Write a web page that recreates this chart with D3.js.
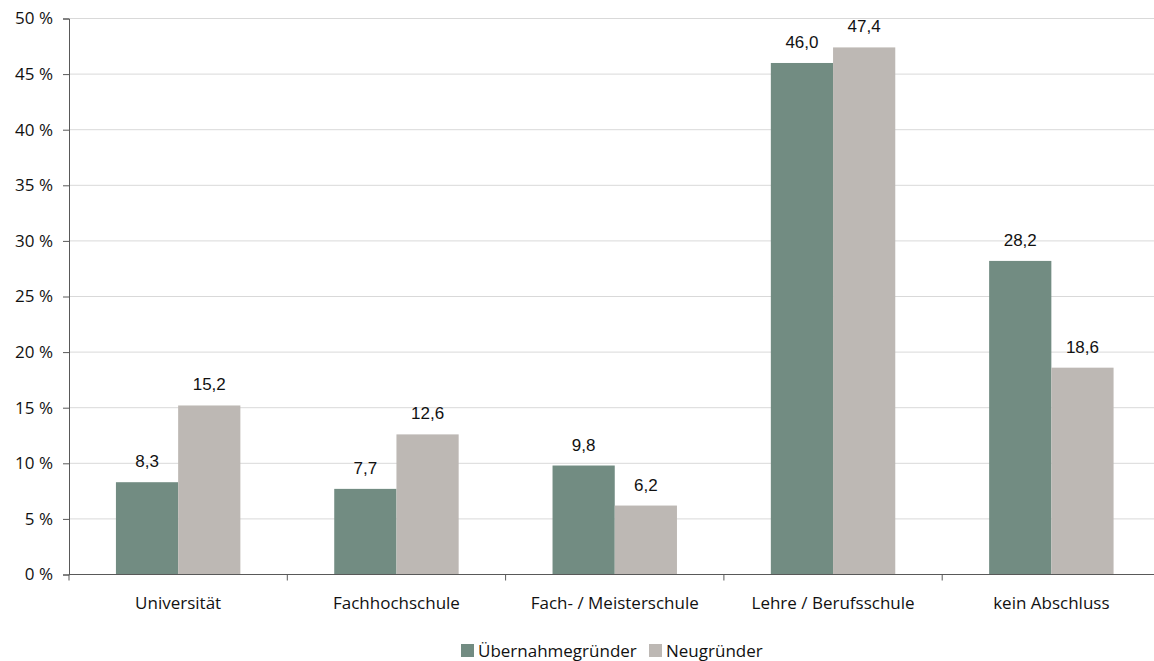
<!DOCTYPE html>
<html>
<head>
<meta charset="utf-8">
<script src="https://cdn.jsdelivr.net/npm/d3@7"></script>
<style>
  html, body { margin: 0; padding: 0; background: #fff; }
  svg { display: block; }
</style>
</head>
<body>
<svg id="chart" width="1154" height="661"></svg>
<script>
const categories = ["Universität", "Fachhochschule", "Fach- / Meisterschule", "Lehre / Berufsschule", "kein Abschluss"];
const seriesNames = ["Übernahmegründer", "Neugründer"];
const uebernahme = [8.3, 7.7, 9.8, 46.0, 28.2];
const neu = [15.2, 12.6, 6.2, 47.4, 18.6];
const yTicks = [0, 5, 10, 15, 20, 25, 30, 35, 40, 45, 50];
const colors = ["#728c82", "#bdb8b4"];

(function () {
const svg = d3.select("#chart");
const plotLeft = 69, plotRight = 1160.5, plotTop = 18.5, plotBottom = 574.5;
const labelFont = "'Open Sans', 'Liberation Sans', sans-serif";
const valueFont = "'Liberation Sans', Arial, sans-serif";
const textColor = "#111";

const x = d3.scaleBand().domain(categories).range([plotLeft, plotRight]).paddingInner(0.43).paddingOuter(0.215);
const x1 = d3.scaleBand().domain(seriesNames).range([0, x.bandwidth()]);
const y = d3.scaleLinear().domain([0, 50]).range([plotBottom, plotTop]);

// gridlines
svg.append("g").selectAll("line").data(yTicks.filter(d => d > 0)).join("line")
  .attr("x1", plotLeft).attr("x2", plotRight)
  .attr("y1", d => y(d)).attr("y2", d => y(d))
  .attr("stroke", "#d9d9d9").attr("stroke-width", 1);

// bars and value labels
const rows = categories.map((c, i) => ({ c, vals: [uebernahme[i], neu[i]] }));
const groups = svg.append("g").selectAll("g").data(rows).join("g")
  .attr("transform", d => `translate(${x(d.c)},0)`);
groups.selectAll("rect").data(d => d.vals.map((v, j) => ({ v, s: seriesNames[j], j }))).join("rect")
  .attr("x", d => x1(d.s)).attr("width", x1.bandwidth())
  .attr("y", d => y(d.v)).attr("height", d => plotBottom - y(d.v))
  .attr("fill", d => colors[d.j]);
groups.selectAll("text").data(d => d.vals.map((v, j) => ({ v, s: seriesNames[j], j }))).join("text")
  .attr("x", d => x1(d.s) + x1.bandwidth() / 2)
  .attr("y", d => y(d.v) - 15)
  .attr("text-anchor", "middle")
  .attr("font-family", valueFont).attr("font-size", 17).attr("fill", textColor)
  .text(d => d.v.toFixed(1).replace(".", ","));

// y axis
const yAxis = svg.append("g").attr("transform", `translate(${plotLeft},0)`)
  .call(d3.axisLeft(y).tickValues(yTicks).tickSize(6).tickPadding(10).tickFormat(d => d + " %"));
yAxis.select(".domain").attr("stroke", "#595959");
yAxis.selectAll(".tick line").attr("stroke", "#595959");
yAxis.selectAll("text").attr("font-family", labelFont).attr("font-size", 17).attr("fill", textColor);

// x axis with ticks at category boundaries
const xAxisG = svg.append("g");
xAxisG.append("line").attr("x1", plotLeft).attr("x2", plotRight).attr("y1", plotBottom).attr("y2", plotBottom)
  .attr("stroke", "#595959");
const step = (plotRight - plotLeft) / categories.length;
xAxisG.selectAll("line.tk").data(d3.range(categories.length + 1)).join("line").attr("class", "tk")
  .attr("x1", i => plotLeft + i * step).attr("x2", i => plotLeft + i * step)
  .attr("y1", plotBottom).attr("y2", plotBottom + 6).attr("stroke", "#595959");
xAxisG.selectAll("text").data(categories).join("text")
  .attr("x", d => x(d) + x.bandwidth() / 2)
  .attr("y", 609)
  .attr("text-anchor", "middle")
  .attr("font-family", labelFont).attr("font-size", 17).attr("fill", textColor)
  .text(d => d);

// legend
const legend = svg.append("g");
const items = [{ name: seriesNames[0], x: 461 }, { name: seriesNames[1], x: 649 }];
items.forEach((it, i) => {
  legend.append("rect").attr("x", it.x).attr("y", 644).attr("width", 13).attr("height", 13).attr("fill", colors[i]);
  legend.append("text").attr("x", it.x + 17).attr("y", 657)
    .attr("font-family", labelFont).attr("font-size", 17).attr("fill", textColor)
    .text(it.name);
});
})();
</script>
</body>
</html>
